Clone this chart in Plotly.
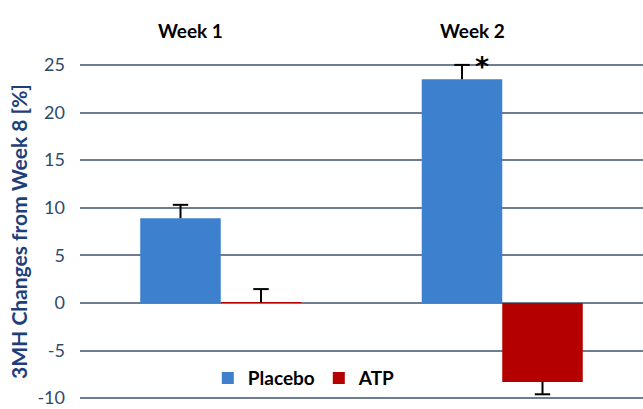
import plotly.graph_objects as go

weeks = ["Week 1", "Week 2"]
placebo = [8.9, 23.5]
placebo_err = [1.4, 1.5]
atp = [0.05, -8.3]
atp_err_up = [1.4, 0.0]
atp_err_down = [0.0, 1.3]
y_ticks = [-10, -5, 0, 5, 10, 15, 20, 25]

BLUE = "#3D80CE"
RED = "#B50000"
GRID = "#6E7D92"
TICK = "#2E4A6B"
FONT = "Lato, Open Sans, Arial"
GAP = 0.428

fig = go.Figure()

# Bars with the error stems (no caps)
fig.add_trace(go.Bar(
    x=weeks, y=placebo, name="<b>Placebo</b>", offsetgroup="p",
    marker=dict(color=BLUE, line=dict(width=0)),
    error_y=dict(type="data", array=placebo_err, arrayminus=[0, 0], symmetric=False,
                 color="black", thickness=2, width=0),
))
fig.add_trace(go.Bar(
    x=weeks, y=atp, name="<b>ATP</b>", offsetgroup="a",
    marker=dict(color=RED, line=dict(width=0)),
    error_y=dict(type="data", array=atp_err_up, arrayminus=atp_err_down, symmetric=False,
                 color="black", thickness=2, width=0),
))

# One-sided caps at the far end of each error bar
placebo_cap = [v + e for v, e in zip(placebo, placebo_err)]
atp_cap = [v + u - d for v, u, d in zip(atp, atp_err_up, atp_err_down)]
cap_marker = dict(symbol="line-ew", size=11, color="black", line=dict(color="black", width=2))
fig.add_trace(go.Scatter(x=weeks, y=placebo_cap, mode="markers", offsetgroup="p",
                         marker=cap_marker, showlegend=False, hoverinfo="skip"))
fig.add_trace(go.Scatter(x=weeks, y=atp_cap, mode="markers", offsetgroup="a",
                         marker=cap_marker, showlegend=False, hoverinfo="skip"))

# Week labels above each group
for w in weeks:
    fig.add_annotation(x=w, y=1.0, xref="x", yref="paper", yshift=46, text=f"<b>{w}</b>",
                       showarrow=False, font=dict(family=FONT, size=19, color="black"),
                       xshift=-30)

# Significance marker for Week 2 placebo
fig.add_annotation(x="Week 2", y=placebo_cap[1], xref="x", yref="y",
                   text="<b>*</b>", showarrow=False, xshift=-20, yshift=-2,
                   font=dict(family="DejaVu Sans", size=27, color="black"))

fig.update_layout(
    width=643, height=409,
    margin=dict(l=80, r=0, t=63, b=9),
    paper_bgcolor="white", plot_bgcolor="white",
    barmode="group", bargap=GAP, bargroupgap=0,
    scattermode="group", scattergap=GAP,
    showlegend=True,
    legend=dict(orientation="h", x=0.227, y=0.065, xanchor="left", yanchor="middle",
                font=dict(family=FONT, size=19, color="black"),
                bgcolor="rgba(0,0,0,0)", itemwidth=30, traceorder="normal",
                entrywidth=66),
    font=dict(family=FONT),
)
fig.update_xaxes(showticklabels=False, showgrid=False, zeroline=False, showline=False)
fig.update_yaxes(
    range=[-10.2, 25.2], tickvals=y_ticks, ticktext=[str(v) for v in y_ticks],
    showgrid=True, gridcolor=GRID, gridwidth=1.5,
    zeroline=True, zerolinecolor=GRID, zerolinewidth=1.5,
    showline=False, ticks="", ticklabelstandoff=14,
    tickfont=dict(family=FONT, size=18, color=TICK),
    title=dict(text="<b>3MH Changes from Week 8 [%]</b>", standoff=4,
               font=dict(family=FONT, size=21, color="#1F3F7A")),
)

fig.write_html("out.html")
